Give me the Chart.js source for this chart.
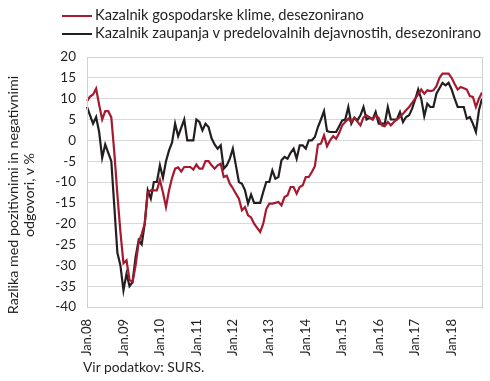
<!DOCTYPE html>
<html>
<head>
    <title>Kazalnik gospodarske klime</title>
    <script src="https://cdn.jsdelivr.net/npm/chart.js"></script>
    <style>
        body { margin: 0; background: #fff; font-family: Lato, sans-serif; color: #231f20; }
        #wrap { position: relative; width: 490px; height: 381px; }
        .leg { position: absolute; left: 62px; font-size: 14.7px; line-height: 18px; white-space: nowrap; }
        .leg span { display: inline-block; width: 30px; height: 2px; vertical-align: middle; margin-right: 3px; }
        #ytitle { position: absolute; left: -128px; top: 178px; width: 300px; height: 34px; line-height: 16px;
                  font-size: 14.3px; text-align: center; transform: rotate(-90deg); white-space: nowrap; }
        #src { position: absolute; left: 83px; top: 358px; font-size: 13.8px; }
    </style>
</head>
<body>
<div id="wrap">
    <canvas id="chart" width="490" height="381"></canvas>
    <div class="leg" style="top:5px"><span style="background:#a6192e"></span>Kazalnik gospodarske klime, desezonirano</div>
    <div class="leg" style="top:23px"><span style="background:#231f20"></span>Kazalnik zaupanja v predelovalnih dejavnostih, desezonirano</div>
    <div id="ytitle">Razlika med pozitivnimi in negativnimi<br>odgovori, v %</div>
    <div id="src">Vir podatkov: SURS.</div>
</div>

<script>
    const years = ['08', '09', '10', '11', '12', '13', '14', '15', '16', '17', '18'];
    const monthNames = ['Jan', 'Feb', 'Mar', 'Apr', 'Maj', 'Jun', 'Jul', 'Avg', 'Sep', 'Okt', 'Nov', 'Dec'];

    // Kazalnik gospodarske klime, desezonirano (Jan.08 - Nov.18)
    const klima = [
        9.4, 10.5, 11, 12.4, 8.5, 5, 7, 7, 5.5, -3,
        -13, -22, -29.5, -28.8, -33.5, -34, -30, -24.5, -22.5, -20,
        -12.5, -12, -12, -12, -9.5, -12.5, -16, -12, -9, -6.8,
        -6.5, -7.5, -6.4, -6.4, -6.4, -7, -5.8, -6.8, -6.8, -5,
        -5, -6, -6.8, -6, -5.6, -8.8, -8.5, -10.4, -11.5, -12.8,
        -14, -16.8, -16, -18, -18.5, -20, -21, -22, -20, -16.5,
        -15.2, -15.2, -15, -14.8, -15.6, -13.6, -13.2, -11.2, -11.2, -12.8,
        -11.2, -10.8, -8.8, -8.8, -7.6, -6.2, -1, -0.8, 1.2, -1.4,
        0, 1, 0.4, 1.8, 3.6, 4.4, 5.2, 4.4, 5.4, 4.5,
        3.6, 5.5, 6, 5.5, 5, 6, 5.4, 3.6, 3.4, 4.4,
        3.6, 4.4, 5, 5.6, 6.4, 7.2, 8, 9, 10, 11,
        12.2, 11.2, 12, 11.8, 12, 13, 15, 16, 16, 16,
        15, 13.5, 12.2, 12.8, 12.5, 12.2, 10.6, 10.4, 8, 10,
        11.5
    ];

    // Kazalnik zaupanja v predelovalnih dejavnostih, desezonirano
    const zaupanje = [
        8, 6, 4, 5.6, 2, -4.2, -1, -3, -5, -16,
        -27, -30, -36, -32, -35, -34, -28, -24, -25, -20,
        -12, -14, -10, -10, -6, -9, -5, -2.4, -0.5, 4,
        1, 3, 5, 0, 0, 0, 5, 4.4, 2.4, 4,
        3.2, 0.5, -1, -2, -1.2, -6.8, -6, -4.4, -2, -6,
        -10, -10.4, -12, -15.2, -13, -15, -15, -15, -12.4, -10,
        -10, -7.2, -9.2, -8.8, -4.8, -4, -4.4, -3, -2, -4.4,
        -1.2, -1.2, -2, 0, 0, 0.8, 3.2, 5, 7, 2.2,
        2, 2, 2, 3.4, 4.8, 5, 8, 4, 5.4, 4.8,
        6, 8, 5, 5.4, 5, 6.8, 4, 4, 4, 8,
        5, 5, 5, 6.8, 4.4, 5.6, 6, 7.6, 9.8, 12.2,
        10, 5.8, 8.8, 8, 8, 11.2, 12.5, 13.8, 13.2, 13.8,
        12.2, 10, 8, 8, 8, 5.2, 5.6, 4, 2, 7.2,
        10
    ];

    const labels = [];
    years.forEach(y => monthNames.forEach(m => labels.push(m + '.' + y)));
    labels.length = klima.length;

    const frame = {
        id: 'frame',
        afterDraw(chart) {
            const a = chart.chartArea, ctx = chart.ctx;
            ctx.save();
            ctx.strokeStyle = '#d0d0d0';
            ctx.lineWidth = 1;
            ctx.strokeRect(Math.round(a.left) + 0.5, Math.round(a.top) + 0.5, Math.round(a.right - a.left), Math.round(a.bottom - a.top));
            ctx.restore();
        }
    };

    const txt = '#231f20';
    new Chart(document.getElementById('chart'), {
        type: 'line',
        data: {
            labels: labels,
            datasets: [
                { label: 'Kazalnik gospodarske klime, desezonirano', data: klima, borderColor: '#a6192e', borderWidth: 2.2, pointRadius: 0, tension: 0 },
                { label: 'Kazalnik zaupanja v predelovalnih dejavnostih, desezonirano', data: zaupanje, borderColor: '#231f20', borderWidth: 2.2, pointRadius: 0, tension: 0 }
            ]
        },
        options: {
            responsive: false,
            animation: false,
            layout: { padding: { top: 57, right: 8, left: 0, bottom: 0 } },
            plugins: { legend: { display: false }, tooltip: { enabled: false } },
            scales: {
                x: {
                    offset: false,
                    grid: { display: false },
                    border: { display: false },
                    ticks: {
                        autoSkip: false, minRotation: 90, maxRotation: 90,
                        color: txt, font: { family: 'Lato', size: 13 }, padding: 4,
                        callback: function (v, i) { return i % 12 === 0 ? this.getLabelForValue(v) : null; }
                    },
                    afterFit: s => { s.height = 74; }
                },
                y: {
                    min: -40, max: 20,
                    ticks: { stepSize: 5, color: txt, font: { family: 'Lato', size: 13.5 }, padding: 11 },
                    grid: { color: '#d9d9d9', drawTicks: false },
                    border: { display: false },
                    afterFit: s => { s.width = 87; }
                }
            }
        },
        plugins: [frame]
    });
</script>
</body>
</html>
